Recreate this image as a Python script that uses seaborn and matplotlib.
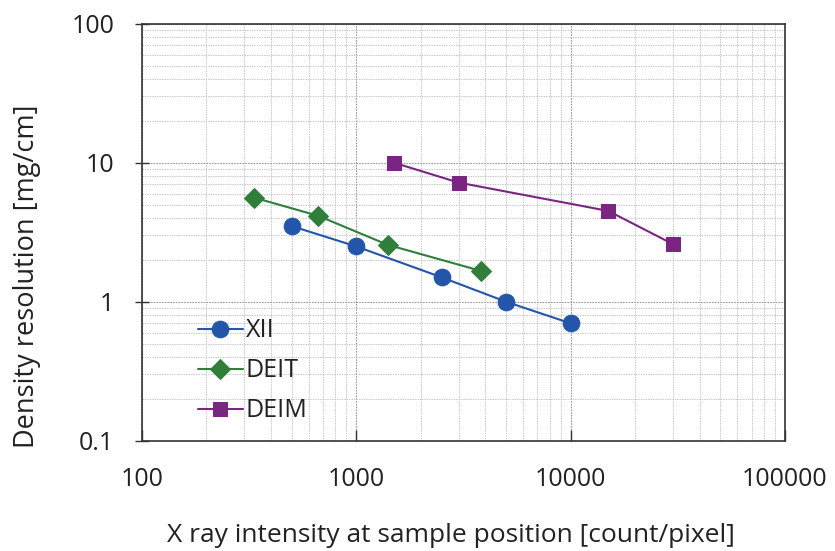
import pandas as pd
import matplotlib.pyplot as plt
import seaborn as sns

# values
xii_x = [500, 1000, 2500, 5000, 10000]
xii_y = [3.5, 2.5, 1.5, 1.0, 0.7]
deit_x = [335, 665, 1400, 3800]
deit_y = [5.6, 4.15, 2.57, 1.67]
deim_x = [1500, 3000, 15000, 30000]
deim_y = [10.0, 7.2, 4.5, 2.6]

series_names = ['XII', 'DEIT', 'DEIM']
colors = ['#2356AA', '#2F7F3B', '#7B2583']
markers = ['o', 'D', 's']
msizes = [12, 10, 10]

sns.set_theme(style="white")
plt.rcParams['font.family'] = ['Open Sans', 'DejaVu Sans']

fig, ax = plt.subplots(figsize=(8.35, 5.51), dpi=100)
fig.subplots_adjust(left=0.17, right=0.94, top=0.957, bottom=0.20)

for name, xs, ys, c, m, ms in zip(series_names, [xii_x, deit_x, deim_x],
                                  [xii_y, deit_y, deim_y], colors, markers, msizes):
    df = pd.DataFrame({'x': xs, 'y': ys})
    sns.lineplot(data=df, x='x', y='y', ax=ax, color=c, marker=m, markersize=ms,
                 markeredgecolor=c, linewidth=1.5, sort=False, label=name)

ax.set_xscale('log')
ax.set_yscale('log')
ax.set_xlim(100, 100000)
ax.set_ylim(0.1, 100)
ax.set_xticks([100, 1000, 10000, 100000])
ax.set_xticklabels(['100', '1000', '10000', '100000'])
ax.set_yticks([0.1, 1, 10, 100])
ax.set_yticklabels(['0.1', '1', '10', '100'])

ax.grid(True, which='major', color='#9a9a9a', linestyle=(0, (1.5, 1)), linewidth=0.8)
ax.grid(True, which='minor', color='#c8c8c8', linestyle=(0, (1.5, 1)), linewidth=0.7)
ax.tick_params(axis='both', which='major', labelsize=18, color='#333333', labelcolor='#222222')
ax.tick_params(axis='y', which='major', direction='inout', length=10, width=1, left=True, pad=15)
ax.tick_params(axis='x', which='major', direction='in', length=8, width=1, bottom=True, pad=19)
ax.tick_params(which='minor', length=0)
for s in ax.spines.values():
    s.set_color('#333333')
    s.set_linewidth(1.2)

ax.set_xlabel('X ray intensity at sample position [count/pixel]', fontsize=19,
              color='#222222', va='center')
ax.set_ylabel('Density resolution [mg/cm]', fontsize=19.5, color='#222222', va='center')
ax.xaxis.set_label_coords(0.48, -0.228)
ax.yaxis.set_label_coords(-0.179, 0.394)

leg = ax.legend(loc='lower left', bbox_to_anchor=(0.052, -0.012), frameon=False, fontsize=18,
                handlelength=1.8, labelspacing=0.6, handletextpad=0.12)
for t in leg.get_texts():
    t.set_color('#222222')

plt.savefig('out.png', dpi=100)
